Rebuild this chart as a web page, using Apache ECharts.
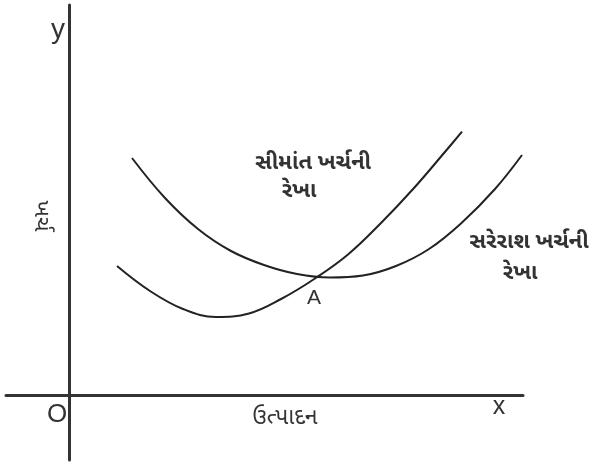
<!DOCTYPE html>
<html><head><meta charset="utf-8">
<script src="https://cdn.jsdelivr.net/npm/echarts@6/dist/echarts.min.js"></script>
<style>html,body{margin:0;padding:0;background:#fff}#c{width:592px;height:464px}</style>
</head><body><div id="c"></div>
<script>
// Marginal cost curve (x = output, y = cost)
const mcX = [48, 81, 114, 147, 180, 213, 246, 279, 312, 345, 378, 393];
const mcY = [129, 104, 86, 78, 81.5, 96.5, 116.5, 140.5, 172, 207, 245.5, 263.3];
// Average cost curve
const acX = [63, 96, 129, 162, 195, 228, 261, 294, 327, 360, 393, 426, 453];
const acY = [237, 197, 166, 144, 130, 121, 117.5, 119.5, 129, 146, 172.5, 206, 240];
// Texts
const mcLabel = ['સીમાંત ખર્ચની', 'રેખા'];
const acLabel = ['સરેરાશ ખર્ચની', 'રેખા'];
const xName = 'ઉત્પાદન';
const yName = 'ખર્ચ';
const pointName = 'A';

const chart = echarts.init(document.getElementById('c'), null, {renderer: 'canvas'});
const gu = "'Noto Sans Gujarati','Noto Sans','Lohit Gujarati',sans-serif";
const lat = "'Liberation Sans', Arial, sans-serif";
const zip = (xs, ys) => xs.map((x, i) => [x, ys[i]]);
const gtxt = (x, y, text, font, extra) => Object.assign({type: 'text', x: x, y: y,
  style: {text: text, font: font, fill: '#333', align: 'center', verticalAlign: 'middle'}}, extra || {});
chart.setOption({
  animation: false,
  grid: {left: 6, right: 69, top: 5, bottom: 4},
  xAxis: {type: 'value', min: -63, max: 454, axisLine: {onZero: true, lineStyle: {color: '#333', width: 3}},
    axisTick: {show: false}, axisLabel: {show: false}, splitLine: {show: false}},
  yAxis: {type: 'value', min: -65, max: 390, axisLine: {show: true, onZero: true, lineStyle: {color: '#333', width: 3}},
    axisTick: {show: false}, axisLabel: {show: false}, splitLine: {show: false}},
  series: [
    {type: 'line', data: zip(mcX, mcY), smooth: 0.4, showSymbol: false, lineStyle: {color: '#222', width: 2}},
    {type: 'line', data: zip(acX, acY), smooth: 0.4, showSymbol: false, lineStyle: {color: '#222', width: 2}}
  ],
  graphic: [
    gtxt(58, 30, 'y', '28px ' + lat),
    gtxt(499, 407, 'x', '25px ' + lat),
    gtxt(57, 415, 'O', '26px ' + lat),
    gtxt(314, 298, pointName, '21px ' + lat),
    gtxt(313, 165, mcLabel[0], 'bold 22px ' + gu),
    gtxt(299, 193, mcLabel[1], 'bold 22px ' + gu),
    gtxt(529, 244, acLabel[0], 'bold 22px ' + gu),
    gtxt(520, 275, acLabel[1], 'bold 22px ' + gu),
    gtxt(285, 420, xName, '23px ' + gu),
    gtxt(39, 216, yName, '22px ' + gu, {rotation: -Math.PI / 2})
  ]
});
</script></body></html>
